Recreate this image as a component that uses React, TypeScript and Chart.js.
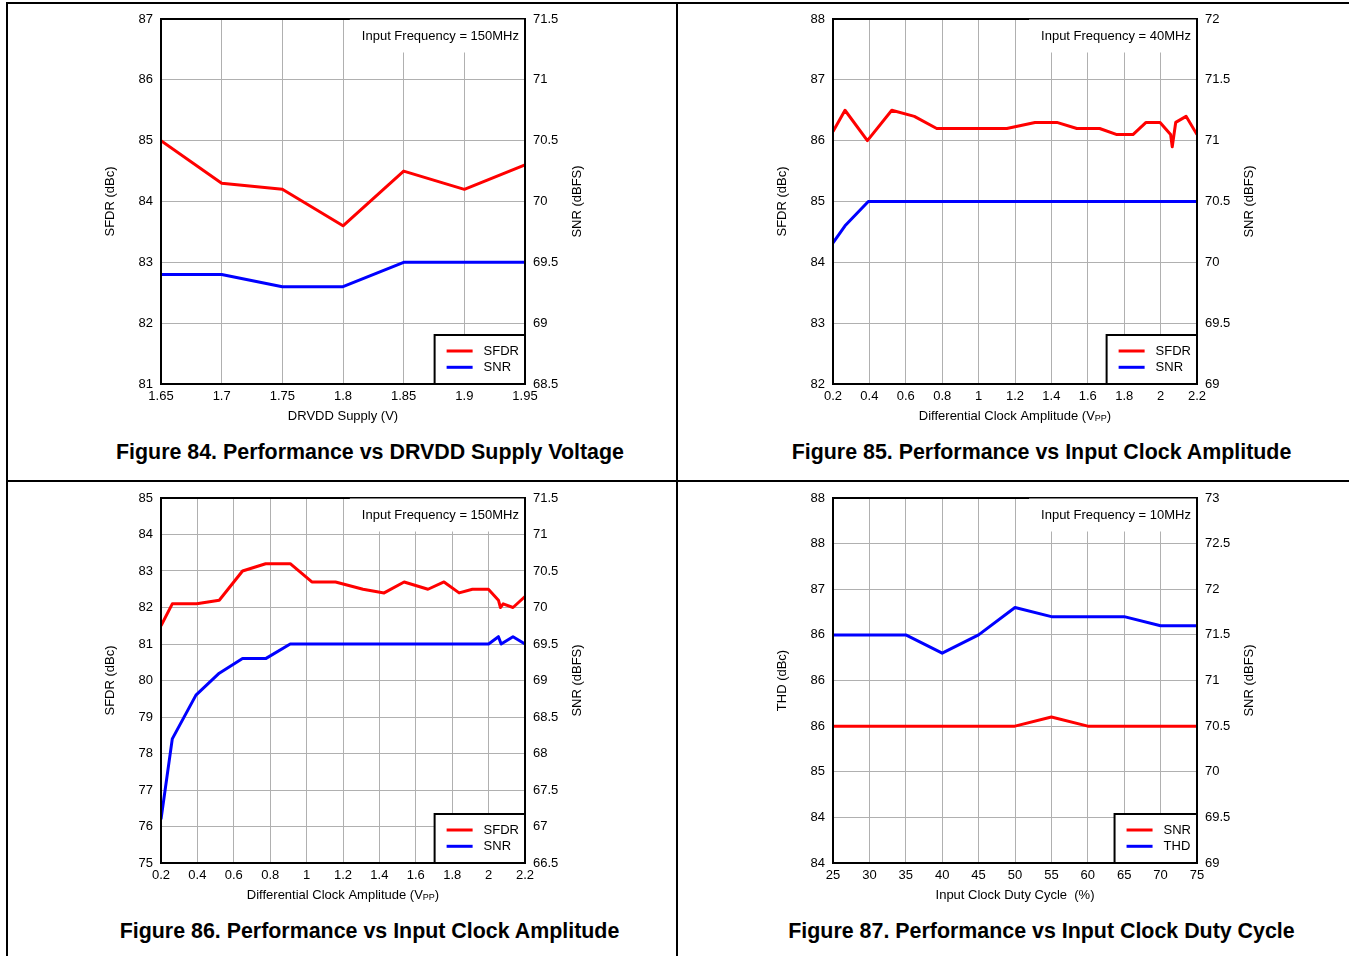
import React, { useEffect, useRef } from 'react';
import Chart from 'chart.js/auto';

const FONT = "'Liberation Sans', Arial, Helvetica, sans-serif";
const GRID = '#b0b0b0';
const RED = '#ff0000';
const BLUE = '#0000ff';

// ---------- Figure 84 ----------
const f84Supply = [1.65, 1.7, 1.75, 1.8, 1.85, 1.9, 1.95];
const f84Sfdr = [85, 84.3, 84.2, 83.6, 84.5, 84.2, 84.6];
const f84Snr = [69.4, 69.4, 69.3, 69.3, 69.5, 69.5, 69.5];
const f84XTicks = [1.65, 1.7, 1.75, 1.8, 1.85, 1.9, 1.95];
const f84XLabels = ['1.65', '1.7', '1.75', '1.8', '1.85', '1.9', '1.95'];
const f84YTicks = [81, 82, 83, 84, 85, 86, 87];
const f84YLabels = ['81', '82', '83', '84', '85', '86', '87'];
const f84Y1Ticks = [68.5, 69, 69.5, 70, 70.5, 71, 71.5];
const f84Y1Labels = ['68.5', '69', '69.5', '70', '70.5', '71', '71.5'];

// ---------- Figure 85 ----------
const f85SfdrX = [0.2, 0.266, 0.389, 0.523, 0.647, 0.77, 1.155, 1.31, 1.43, 1.54, 1.665, 1.76, 1.848, 1.92, 1.997, 2.055, 2.064, 2.083, 2.14, 2.2];
const f85Sfdr = [86.15, 86.5, 86.0, 86.5, 86.4, 86.2, 86.2, 86.3, 86.3, 86.2, 86.2, 86.1, 86.1, 86.3, 86.3, 86.1, 85.9, 86.3, 86.4, 86.1];
const f85SnrX = [0.2, 0.266, 0.394, 2.2];
const f85Snr = [70.16, 70.3, 70.5, 70.5];
const ampXTicks = [0.2, 0.4, 0.6, 0.8, 1, 1.2, 1.4, 1.6, 1.8, 2, 2.2];
const ampXLabels = ['0.2', '0.4', '0.6', '0.8', '1', '1.2', '1.4', '1.6', '1.8', '2', '2.2'];
const f85YTicks = [82, 83, 84, 85, 86, 87, 88];
const f85YLabels = ['82', '83', '84', '85', '86', '87', '88'];
const f85Y1Ticks = [69, 69.5, 70, 70.5, 71, 71.5, 72];
const f85Y1Labels = ['69', '69.5', '70', '70.5', '71', '71.5', '72'];

// ---------- Figure 86 ----------
const f86SfdrX = [0.2, 0.262, 0.396, 0.52, 0.648, 0.775, 0.91, 1.029, 1.159, 1.31, 1.426, 1.536, 1.667, 1.755, 1.838, 1.911, 1.999, 2.054, 2.065, 2.08, 2.134, 2.2];
const f86Sfdr = [81.5, 82.1, 82.1, 82.2, 83.0, 83.2, 83.2, 82.7, 82.7, 82.5, 82.4, 82.7, 82.5, 82.7, 82.4, 82.5, 82.5, 82.2, 82.0, 82.1, 82.0, 82.3];
const f86SnrX = [0.2, 0.262, 0.392, 0.52, 0.648, 0.775, 0.91, 2.0, 2.054, 2.069, 2.134, 2.2];
const f86Snr = [67.1, 68.2, 68.8, 69.1, 69.3, 69.3, 69.5, 69.5, 69.6, 69.5, 69.6, 69.5];
const f86YTicks = [75, 76, 77, 78, 79, 80, 81, 82, 83, 84, 85];
const f86YLabels = ['75', '76', '77', '78', '79', '80', '81', '82', '83', '84', '85'];
const f86Y1Ticks = [66.5, 67, 67.5, 68, 68.5, 69, 69.5, 70, 70.5, 71, 71.5];
const f86Y1Labels = ['66.5', '67', '67.5', '68', '68.5', '69', '69.5', '70', '70.5', '71', '71.5'];

// ---------- Figure 87 ----------
const f87Duty = [25, 30, 35, 40, 45, 50, 55, 60, 65, 70, 75];
const f87Snr = [70.5, 70.5, 70.5, 70.5, 70.5, 70.5, 70.6, 70.5, 70.5, 70.5, 70.5];
const f87Thd = [86.5, 86.5, 86.5, 86.3, 86.5, 86.8, 86.7, 86.7, 86.7, 86.6, 86.6];
const f87XTicks = [25, 30, 35, 40, 45, 50, 55, 60, 65, 70, 75];
const f87XLabels = ['25', '30', '35', '40', '45', '50', '55', '60', '65', '70', '75'];
const f87YTicks = [84, 84.5, 85, 85.5, 86, 86.5, 87, 87.5, 88];
const f87YLabels = ['84', '84', '85', '86', '86', '86', '87', '88', '88'];
const f87Y1Ticks = [69, 69.5, 70, 70.5, 71, 71.5, 72, 72.5, 73];
const f87Y1Labels = ['69', '69.5', '70', '70.5', '71', '71.5', '72', '72.5', '73'];

type Series = { label: string; color: string; xs: number[]; ys: number[]; axis: 'y' | 'y1' };
type Spec = {
  xTicks: number[]; xLabels: string[];
  yTicks: number[]; yLabels: string[];
  y1Ticks: number[]; y1Labels: string[];
  series: Series[];
  note: string; yTitle: string; y1Title: string;
  xTitle: string; xSub?: string; xTail?: string;
};

const decorPlugin = {
  id: 'panelDecor',
  afterDraw(chart: any, _args: any, o: any) {
    const { ctx } = chart;
    const { left, top, right, bottom } = chart.chartArea;
    ctx.save();
    ctx.font = `13px ${FONT}`;
    // legend box
    const labels: string[] = chart.data.datasets.map((d: any) => d.label);
    const mw = Math.max(...labels.map((l) => ctx.measureText(l).width));
    const bw = 12 + 26 + 11 + mw + 6;
    const bh = 49;
    const bx = right - bw;
    const by = bottom - bh;
    ctx.fillStyle = '#fff';
    ctx.fillRect(bx, by, bw, bh);
    ctx.strokeStyle = '#000';
    ctx.lineWidth = 2;
    ctx.strokeRect(bx, by, bw, bh);
    chart.data.datasets.forEach((d: any, i: number) => {
      const y = by + 16 + i * 16.3;
      ctx.strokeStyle = d.borderColor;
      ctx.lineWidth = 3;
      ctx.beginPath();
      ctx.moveTo(bx + 12, y);
      ctx.lineTo(bx + 38, y);
      ctx.stroke();
      ctx.fillStyle = '#000';
      ctx.textAlign = 'left';
      ctx.textBaseline = 'middle';
      ctx.fillText(d.label, bx + 49, y);
    });
    // frame
    ctx.strokeStyle = '#000';
    ctx.lineWidth = 2;
    ctx.strokeRect(left, top, right - left, bottom - top);
    // note box
    const nw = ctx.measureText(o.note).width;
    ctx.fillStyle = '#fff';
    ctx.fillRect(right - 6 - nw - 12, top + 0.5, nw + 17, 33);
    ctx.fillStyle = '#000';
    ctx.textAlign = 'right';
    ctx.textBaseline = 'middle';
    ctx.fillText(o.note, right - 6, top + 17);
    // y titles
    ctx.textAlign = 'center';
    const cy = (top + bottom) / 2;
    ctx.save();
    ctx.translate(left - 51, cy);
    ctx.rotate(-Math.PI / 2);
    ctx.fillText(o.yTitle, 0, 0);
    ctx.restore();
    ctx.save();
    ctx.translate(right + 52, cy);
    ctx.rotate(-Math.PI / 2);
    ctx.fillText(o.y1Title, 0, 0);
    ctx.restore();
    // x title
    const cx = (left + right) / 2;
    const ty = bottom + 32;
    ctx.textAlign = 'left';
    const w1 = ctx.measureText(o.xTitle).width;
    let w2 = 0;
    let w3 = 0;
    if (o.xSub) {
      ctx.font = `9px ${FONT}`;
      w2 = ctx.measureText(o.xSub).width;
      ctx.font = `13px ${FONT}`;
      w3 = ctx.measureText(o.xTail || '').width;
    }
    let sx = cx - (w1 + w2 + w3) / 2;
    ctx.fillText(o.xTitle, sx, ty);
    if (o.xSub) {
      sx += w1;
      ctx.font = `9px ${FONT}`;
      ctx.fillText(o.xSub, sx, ty + 3);
      sx += w2;
      ctx.font = `13px ${FONT}`;
      ctx.fillText(o.xTail || '', sx, ty);
    }
    ctx.restore();
  },
};

const tickFont = { family: FONT, size: 13 };

function buildConfig(s: Spec): any {
  const minMax = (t: number[]) => ({ min: t[0], max: t[t.length - 1] });
  return {
    type: 'line',
    data: {
      datasets: s.series.map((se) => ({
        label: se.label,
        data: se.xs.map((x, i) => ({ x, y: se.ys[i] })),
        borderColor: se.color,
        backgroundColor: se.color,
        borderWidth: 3,
        borderJoinStyle: 'round',
        pointRadius: 0,
        tension: 0,
        fill: false,
        yAxisID: se.axis,
      })),
    },
    options: {
      responsive: false,
      animation: false,
      events: [],
      layout: { padding: { top: 19, left: 0, right: 0, bottom: 0 } },
      plugins: {
        legend: { display: false },
        tooltip: { enabled: false },
        panelDecor: {
          note: s.note, yTitle: s.yTitle, y1Title: s.y1Title,
          xTitle: s.xTitle, xSub: s.xSub, xTail: s.xTail,
        },
      },
      scales: {
        x: {
          type: 'linear',
          position: 'bottom',
          ...minMax(s.xTicks),
          afterBuildTicks: (sc: any) => { sc.ticks = s.xTicks.map((v) => ({ value: v })); },
          afterFit: (sc: any) => { sc.height = 46; },
          ticks: {
            autoSkip: false, maxRotation: 0, minRotation: 0, padding: 5,
            color: '#000', font: tickFont,
            callback: (_v: any, i: number) => s.xLabels[i],
          },
          grid: { color: GRID, lineWidth: 1, drawTicks: false },
          border: { display: false },
        },
        y: {
          type: 'linear',
          position: 'left',
          ...minMax(s.yTicks),
          afterBuildTicks: (sc: any) => { sc.ticks = s.yTicks.map((v) => ({ value: v })); },
          afterFit: (sc: any) => { sc.width = 80; },
          ticks: {
            autoSkip: false, padding: 8, color: '#000', font: tickFont,
            callback: (_v: any, i: number) => s.yLabels[i],
          },
          grid: { color: GRID, lineWidth: 1, drawTicks: false },
          border: { display: false },
        },
        y1: {
          type: 'linear',
          position: 'right',
          ...minMax(s.y1Ticks),
          afterBuildTicks: (sc: any) => { sc.ticks = s.y1Ticks.map((v) => ({ value: v })); },
          afterFit: (sc: any) => { sc.width = 76; },
          ticks: {
            autoSkip: false, padding: 8, color: '#000', font: tickFont,
            callback: (_v: any, i: number) => s.y1Labels[i],
          },
          grid: { display: false, drawTicks: false },
          border: { display: false },
        },
      },
    },
    plugins: [decorPlugin],
  };
}

const spec84: Spec = {
  xTicks: f84XTicks, xLabels: f84XLabels,
  yTicks: f84YTicks, yLabels: f84YLabels,
  y1Ticks: f84Y1Ticks, y1Labels: f84Y1Labels,
  series: [
    { label: 'SFDR', color: RED, xs: f84Supply, ys: f84Sfdr, axis: 'y' },
    { label: 'SNR', color: BLUE, xs: f84Supply, ys: f84Snr, axis: 'y1' },
  ],
  note: 'Input Frequency = 150MHz', yTitle: 'SFDR (dBc)', y1Title: 'SNR (dBFS)',
  xTitle: 'DRVDD Supply (V)',
};

const spec85: Spec = {
  xTicks: ampXTicks, xLabels: ampXLabels,
  yTicks: f85YTicks, yLabels: f85YLabels,
  y1Ticks: f85Y1Ticks, y1Labels: f85Y1Labels,
  series: [
    { label: 'SFDR', color: RED, xs: f85SfdrX, ys: f85Sfdr, axis: 'y' },
    { label: 'SNR', color: BLUE, xs: f85SnrX, ys: f85Snr, axis: 'y1' },
  ],
  note: 'Input Frequency = 40MHz', yTitle: 'SFDR (dBc)', y1Title: 'SNR (dBFS)',
  xTitle: 'Differential Clock Amplitude (V', xSub: 'PP', xTail: ')',
};

const spec86: Spec = {
  xTicks: ampXTicks, xLabels: ampXLabels,
  yTicks: f86YTicks, yLabels: f86YLabels,
  y1Ticks: f86Y1Ticks, y1Labels: f86Y1Labels,
  series: [
    { label: 'SFDR', color: RED, xs: f86SfdrX, ys: f86Sfdr, axis: 'y' },
    { label: 'SNR', color: BLUE, xs: f86SnrX, ys: f86Snr, axis: 'y1' },
  ],
  note: 'Input Frequency = 150MHz', yTitle: 'SFDR (dBc)', y1Title: 'SNR (dBFS)',
  xTitle: 'Differential Clock Amplitude (V', xSub: 'PP', xTail: ')',
};

const spec87: Spec = {
  xTicks: f87XTicks, xLabels: f87XLabels,
  yTicks: f87YTicks, yLabels: f87YLabels,
  y1Ticks: f87Y1Ticks, y1Labels: f87Y1Labels,
  series: [
    { label: 'SNR', color: RED, xs: f87Duty, ys: f87Snr, axis: 'y1' },
    { label: 'THD', color: BLUE, xs: f87Duty, ys: f87Thd, axis: 'y' },
  ],
  note: 'Input Frequency = 10MHz', yTitle: 'THD (dBc)', y1Title: 'SNR (dBFS)',
  xTitle: 'Input Clock Duty Cycle  (%)',
};

function ChartPanel({ spec, left, top }: { spec: Spec; left: number; top: number }) {
  const ref = useRef<HTMLCanvasElement>(null);
  useEffect(() => {
    const chart = new Chart(ref.current as HTMLCanvasElement, buildConfig(spec));
    return () => chart.destroy();
  }, [spec]);
  return (
    <canvas
      ref={ref}
      width={520}
      height={430}
      style={{ position: 'absolute', left, top, width: 520, height: 430 }}
    />
  );
}

function Caption({ text, cx, cy }: { text: string; cx: number; cy: number }) {
  return (
    <div
      style={{
        position: 'absolute', left: cx - 320, top: cy - 13, width: 640, height: 26,
        lineHeight: '26px', textAlign: 'center', fontFamily: FONT, fontWeight: 'bold',
        fontSize: '21.4px', color: '#000', whiteSpace: 'nowrap',
      }}
    >
      {text}
    </div>
  );
}

export default function App() {
  const line = (l: number, t: number, w: number, h: number) => (
    <div style={{ position: 'absolute', left: l, top: t, width: w, height: h, background: '#000' }} />
  );
  return (
    <div
      style={{
        position: 'absolute', left: 0, top: 0, width: 1349, height: 956,
        background: '#fff', overflow: 'hidden',
      }}
    >
      {line(6, 2, 1343, 2)}
      {line(6, 2, 2, 954)}
      {line(676, 2, 2, 954)}
      {line(6, 480, 1343, 2)}
      <ChartPanel spec={spec84} left={81} top={0} />
      <ChartPanel spec={spec85} left={753} top={0} />
      <ChartPanel spec={spec86} left={81} top={479} />
      <ChartPanel spec={spec87} left={753} top={479} />
      <Caption text="Figure 84. Performance vs DRVDD Supply Voltage" cx={370} cy={452} />
      <Caption text="Figure 85. Performance vs Input Clock Amplitude" cx={1041.5} cy={452} />
      <Caption text="Figure 86. Performance vs Input Clock Amplitude" cx={369.5} cy={931} />
      <Caption text="Figure 87. Performance vs Input Clock Duty Cycle" cx={1041.5} cy={931} />
    </div>
  );
}
